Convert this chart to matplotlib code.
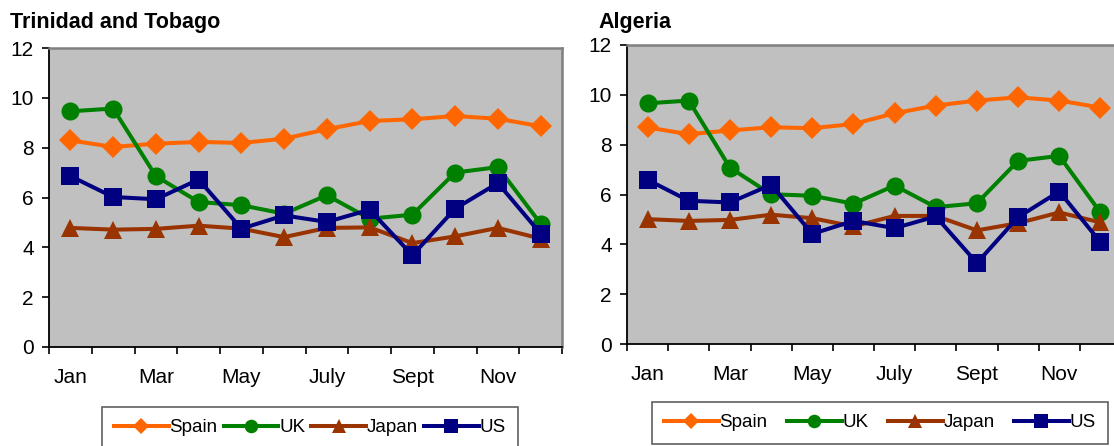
import matplotlib
matplotlib.use("Agg")
import matplotlib.pyplot as plt

plt.rcParams['font.family'] = ['Liberation Sans', 'DejaVu Sans']

months = ['Jan', 'Feb', 'Mar', 'Apr', 'May', 'Jun', 'July', 'Aug', 'Sept', 'Oct', 'Nov', 'Dec']
shown_labels = ['Jan', '', 'Mar', '', 'May', '', 'July', '', 'Sept', '', 'Nov', '']

tt_spain = [8.29, 8.03, 8.16, 8.23, 8.19, 8.36, 8.74, 9.07, 9.14, 9.27, 9.16, 8.86]
tt_uk    = [9.46, 9.57, 6.86, 5.82, 5.69, 5.35, 6.09, 5.15, 5.31, 7.00, 7.22, 4.95]
tt_japan = [4.78, 4.71, 4.74, 4.87, 4.75, 4.41, 4.78, 4.80, 4.17, 4.44, 4.78, 4.35]
tt_us    = [6.86, 6.02, 5.93, 6.72, 4.75, 5.28, 5.02, 5.51, 3.68, 5.55, 6.58, 4.55]

dz_spain = [8.69, 8.42, 8.57, 8.70, 8.66, 8.83, 9.26, 9.57, 9.77, 9.90, 9.77, 9.49]
dz_uk    = [9.66, 9.77, 7.08, 6.01, 5.95, 5.63, 6.36, 5.49, 5.65, 7.35, 7.55, 5.28]
dz_japan = [5.01, 4.94, 4.98, 5.19, 5.05, 4.72, 5.14, 5.14, 4.56, 4.85, 5.28, 4.88]
dz_us    = [6.59, 5.75, 5.68, 6.39, 4.42, 4.94, 4.65, 5.12, 3.25, 5.09, 6.12, 4.09]

series_names = ['Spain', 'UK', 'Japan', 'US']
colors = ['#FF6600', '#008000', '#993300', '#000080']
markers = ['D', 'o', '^', 's']
msizes = [11, 13, 13, 12.5]

W, H = 1114, 446
fig = plt.figure(figsize=(W / 100, H / 100), dpi=100)


def px_axes(x0, y_top, x1, y_bot):
    return fig.add_axes([x0 / W, 1 - y_bot / H, (x1 - x0) / W, (y_bot - y_top) / H])


def draw(ax, data):
    x = list(range(len(months)))
    for vals, name, c, m, ms in zip(data, series_names, colors, markers, msizes):
        ax.plot(x, vals, color=c, lw=2.9, marker=m, ms=ms, mfc=c, mec=c, mew=0,
                label=name, clip_on=False)
    ax.set_facecolor('#C0C0C0')
    ax.set_xlim(-0.5, 11.5)
    ax.set_ylim(0, 12)
    ax.set_yticks(range(0, 13, 2))
    ax.set_xticks([i - 0.5 for i in range(13)])
    ax.set_xticklabels([])
    ax.set_xticks(x, minor=True)
    ax.set_xticklabels(shown_labels, minor=True)
    ax.tick_params(axis='x', which='major', direction='out', length=5, width=1.2, color='#000000')
    ax.tick_params(axis='x', which='minor', length=0, pad=15, labelsize=15)
    ax.tick_params(axis='y', direction='out', length=5, width=1.2, pad=6, labelsize=15)
    for s in ['left', 'bottom']:
        ax.spines[s].set_color('#000000')
        ax.spines[s].set_linewidth(1.3)
    for s in ['top', 'right']:
        ax.spines[s].set_color('#808080')
        ax.spines[s].set_linewidth(1.8)


ax1 = px_axes(49, 48, 562, 347)
draw(ax1, [tt_spain, tt_uk, tt_japan, tt_us])
ax2 = px_axes(627, 45, 1121, 344)
draw(ax2, [dz_spain, dz_uk, dz_japan, dz_us])

fig.text(10 / W, 1 - 28 / H, 'Trinidad and Tobago', fontsize=15.5, fontweight='bold', ha='left', va='baseline')
fig.text(598 / W, 1 - 28 / H, 'Algeria', fontsize=15.5, fontweight='bold', ha='left', va='baseline')


def add_legend(ax, x0, y_top, x1, colsp):
    h, l = ax.get_legend_handles_labels()
    leg = fig.legend(h, l, loc='upper left', ncol=4,
                     bbox_to_anchor=(x0 / W, 1 - y_top / H, (x1 - x0) / W, 0.0),
                     bbox_transform=fig.transFigure, mode='expand',
                     fontsize=13.5, handlelength=2.9, handletextpad=0.05,
                     columnspacing=colsp, borderpad=0.65, borderaxespad=0,
                     markerscale=0.75, fancybox=False, framealpha=1,
                     edgecolor='#606060')
    leg.get_frame().set_linewidth(1.2)
    return leg


add_legend(ax1, 102, 407, 518, 0.3)
add_legend(ax2, 652, 402, 1108, 0.8)

fig.savefig('out.png', dpi=100)
